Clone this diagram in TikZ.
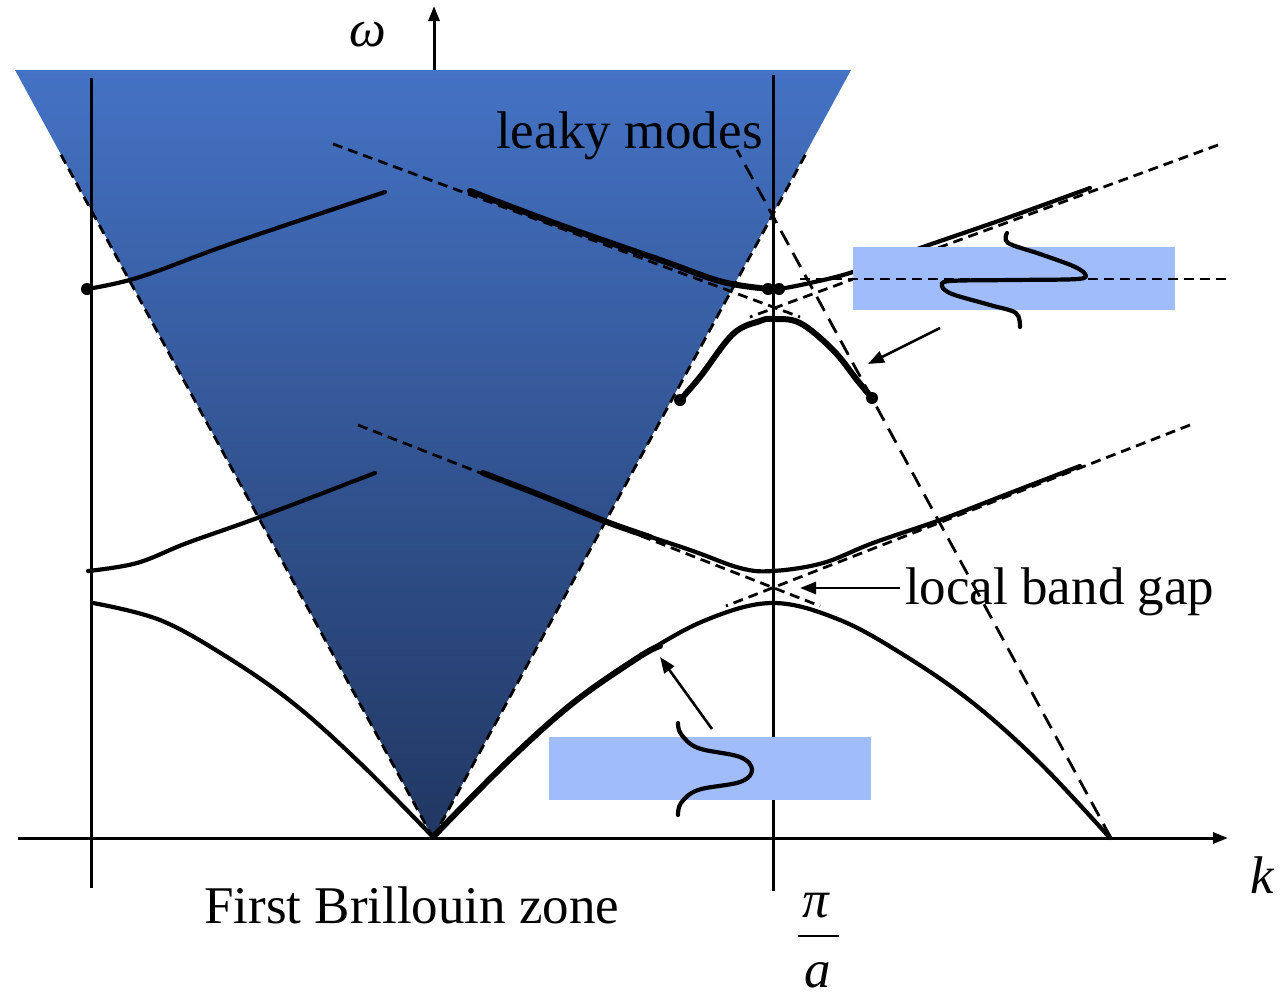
\documentclass[tikz,border=0pt]{standalone}
\usepackage{fontspec}
\setmainfont{Liberation Serif}
\usetikzlibrary{arrows.meta}
\definecolor{conetop}{RGB}{68,114,196}
\definecolor{conemid}{RGB}{58,97,168}
\definecolor{conebot}{RGB}{33,55,98}
\definecolor{slab}{RGB}{160,188,250}
\tikzset{
  band/.style={line width=4.2pt, line cap=round, line join=round},
  thickband/.style={line width=6pt, line cap=round, line join=round},
  guide/.style={line width=2.8pt, dash pattern=on 10pt off 6pt},
  longdash/.style={line width=2.8pt, dash pattern=on 16pt off 9pt},
  axisline/.style={line width=3pt},
  pointer/.style={line width=2.6pt, -{Triangle[length=16pt,width=12pt]}},
  axisarrow/.style={line width=3pt, -{Triangle[length=15pt,width=11pt]}},
  lbl/.style={font=\fontsize{53}{60}\selectfont, inner sep=0pt},
  dotmark/.style={fill=black},
}
\begin{document}
\begin{tikzpicture}[x=1pt,y=-1pt]
\useasboundingbox (0,0) rectangle (1288,996);
\fill[white] (0,0) rectangle (1288,996);

% axes
\coordinate (kstart) at (18,838);
\coordinate (kend) at (1228,838);
\coordinate (wstart) at (434,838);
\coordinate (wend) at (434,6);
\draw[axisarrow] (kstart) -- (kend);
\draw[axisarrow] (wstart) -- (wend);

% light cone
\shade[top color=conetop, middle color=conemid, bottom color=conebot]
  (15,70) -- (851,70) -- (433,838) -- cycle;

% guide (dashed) lines
\draw[guide] (433,838) -- (60,153);
\draw[guide] (433,838) -- (808,150);
\draw[longdash] (1111,838) -- (737,150);
\draw[guide] (333,144) -- (800,317);
\draw[guide] (1218,145) -- (750,317);
\draw[guide] (358,425) -- (820,606);
\draw[guide] (1190,425) -- (726,606);

% zone lines
\draw[axisline] (91,78) -- (91,888);
\draw[axisline] (773,75) -- (773,891);

% band 1
\draw[band] plot[smooth, tension=0.6] coordinates {(93,603) (160,620) (227,657) (293,703) (360,763) (433,837)};
\draw[band] plot[smooth, tension=0.6] coordinates {(433,837) (506,763) (573,703) (639,657) (706,620) (773,603) (840,620) (907,657) (973,703) (1040,763) (1110,838)};
\draw[thickband] plot[smooth, tension=0.6] coordinates {(433,837) (506,763) (573,703) (639,657) (660,646)};

% band 2
\draw[band] plot[smooth, tension=0.6] coordinates {(88,571) (137,563) (187,543) (260,517) (375,473)};
\draw[band] plot[smooth, tension=0.6] coordinates {(483,473) (545,497) (607,522) (690,550) (740,568) (773,571) (823,563) (873,543) (940,520) (1010,493) (1080,466)};
\draw[thickband] plot[smooth, tension=0.6] coordinates {(483,473) (545,497) (607,522) (650,537)};

% band 3 (upper)
\draw[band] plot[smooth, tension=0.6] coordinates {(87,289) (140,277) (233,243) (385,192)};
\draw[thickband] plot[smooth, tension=0.6] coordinates {(470,191) (560,225) (663,261) (723,282) (770,289)};
\draw[band] plot[smooth, tension=0.6] coordinates {(770,289) (779,289) (810,283) (853,272) (923,247) (1007,218) (1090,188)};

% band 3 (lower)
\draw[thickband] plot[smooth, tension=0.6] coordinates {(680,400) (700,377) (733,334) (760,321) (773,319) (800,323) (833,350) (857,380) (872,398)};

% slabs
\fill[slab] (853,247) rectangle (1175,310);
\fill[slab] (549,737) rectangle (871,800);

\draw[guide] (800,279) -- (1228,279);

% mode profiles
\draw[band] plot[smooth, tension=0.55] coordinates {(1007,233) (1008,243) (1040,254) (1073,266) (1085,274) (1078,279) (1013,280) (950,281) (942,286) (952,294) (990,305) (1016,313) (1020,327)};
\draw[band] plot[smooth, tension=0.6] coordinates {(678,723) (681,734) (698,748) (740,757) (752,770) (740,782) (698,790) (681,803) (678,815)};

% pointers
\coordinate (a1s) at (940,328);
\coordinate (a1e) at (868,364);
\coordinate (a2s) at (712,729);
\coordinate (a2e) at (660,657);
\coordinate (a3s) at (900,588);
\coordinate (a3e) at (800,588);
\draw[pointer] (a1s) -- (a1e);
\draw[pointer] (a2s) -- (a2e);
\draw[pointer] (a3s) -- (a3e);

% dots
\fill[dotmark] (87,289) circle (6);
\fill[dotmark] (768,289) circle (6);
\fill[dotmark] (779,289) circle (6);
\fill[dotmark] (680,400) circle (6);
\fill[dotmark] (872,398) circle (6);

% labels
\node[lbl, anchor=base west] (leaky) at (496,148) {leaky modes};
\node[lbl, anchor=base west] (gap) at (905,604) {local band gap};
\node[lbl, anchor=base west] (fbz) at (204,923) {First Brillouin zone};
\node[lbl, anchor=base, font=\fontsize{52}{58}\selectfont] (om) at (368,46) {\itshape ω};
\node[lbl, anchor=base west] (kl) at (1250,893) {\itshape k};
\node[lbl, anchor=base] (pil) at (816,917) {\itshape π};
\node[lbl, anchor=base] (al) at (818,987) {\itshape a};
\draw[line width=2.8pt] (798,936) -- (839,936);
\end{tikzpicture}
\end{document}
